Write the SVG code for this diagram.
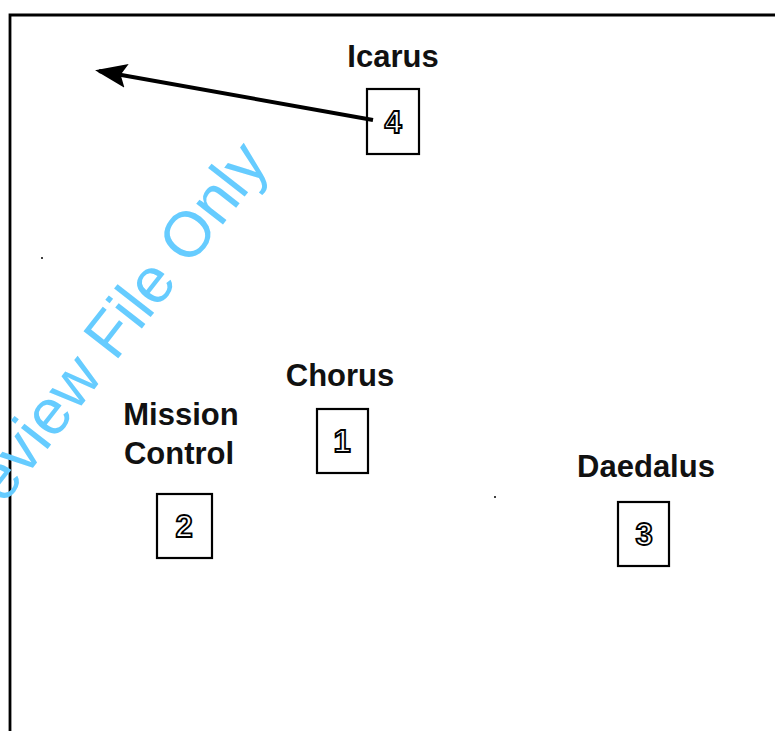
<svg xmlns="http://www.w3.org/2000/svg" width="775" height="731" viewBox="0 0 775 731">
  <defs>
    <marker id="head" markerWidth="8" markerHeight="6" refX="7" refY="3" orient="auto" markerUnits="strokeWidth">
      <path d="M0,0 L8,3 L0,6 L1.5,3 Z" fill="#000"/>
    </marker>
    <style>
      .frame { fill: none; stroke: #000; stroke-width: 2.8; }
      .box { fill: #fff; stroke: #000; stroke-width: 2.2; }
      .label { font-family: "Liberation Sans", Arial, sans-serif; font-weight: bold; font-size: 31px; fill: #111; text-anchor: middle; }
      .num { font-family: "Liberation Sans", Arial, sans-serif; font-weight: bold; font-size: 31px; fill: #fff; stroke: #000; stroke-width: 1.8; text-anchor: middle; }
      .wm { font-family: "Liberation Sans", Arial, sans-serif; font-size: 64px; fill: #66ccff; }
    </style>
  </defs>
  <rect width="775" height="731" fill="#fff"/>

  <!-- frame edges -->
  <path class="frame" d="M10,731 L10,15 L775,15"/>

  <!-- nodes -->
  <g id="node-icarus">
    <text class="label" x="393" y="67">Icarus</text>
    <rect class="box" x="367" y="89" width="52" height="65"/>
    <text class="num" x="393" y="133">4</text>
  </g>
  <g id="node-chorus">
    <text class="label" x="340" y="386">Chorus</text>
    <rect class="box" x="317" y="409" width="51" height="64"/>
    <text class="num" x="342" y="452">1</text>
  </g>
  <g id="node-mission-control">
    <text class="label" x="181" y="425">Mission</text>
    <text class="label" x="179" y="464">Control</text>
    <rect class="box" x="157" y="494" width="55" height="64"/>
    <text class="num" x="184" y="537">2</text>
  </g>
  <g id="node-daedalus">
    <text class="label" x="646" y="477">Daedalus</text>
    <rect class="box" x="618" y="502" width="51" height="64"/>
    <text class="num" x="644" y="545">3</text>
  </g>

  <!-- connectors -->
  <g id="connectors">
    <line x1="373" y1="120" x2="99" y2="71" stroke="#000" stroke-width="4" marker-end="url(#head)"/>
  </g>

  <!-- specks -->
  <circle cx="42" cy="258" r="1" fill="#000"/>
  <circle cx="495" cy="497" r="1" fill="#000"/>

  <!-- watermark -->
  <text class="wm" x="-36" y="556" transform="rotate(-52 -36 556)">Preview File Only</text>
</svg>
